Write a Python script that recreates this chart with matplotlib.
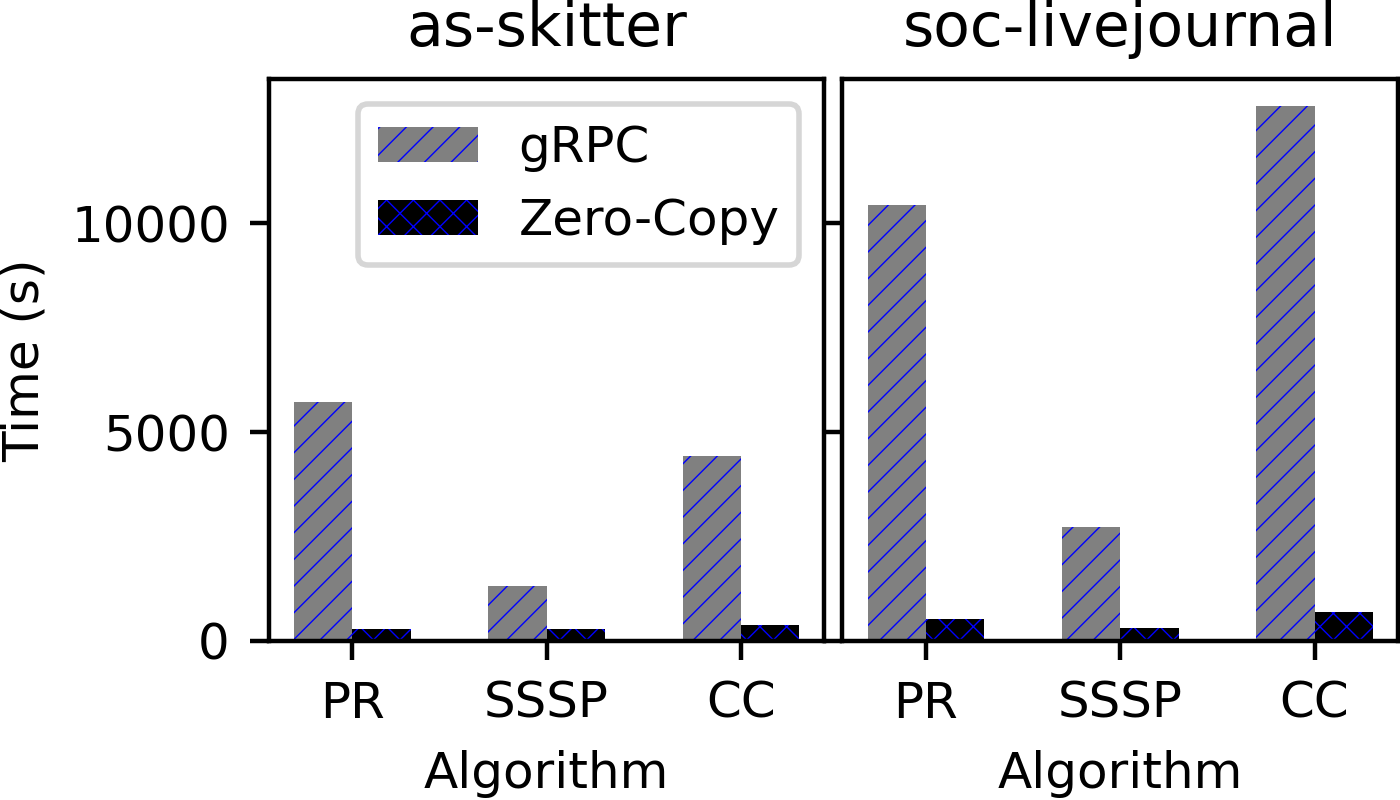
import matplotlib
matplotlib.use("Agg")
import matplotlib.pyplot as plt
import numpy as np

ALGORITHMS = ["PR", "SSSP", "CC"]
DATASETS = ["as-skitter", "soc-livejournal"]
GRPC_TIME = {
    "as-skitter": [5730, 1310, 4430],
    "soc-livejournal": [10430, 2725, 12810],
}
ZERO_COPY_TIME = {
    "as-skitter": [280, 280, 375],
    "soc-livejournal": [515, 300, 685],
}

plt.rcParams["font.size"] = 9
plt.rcParams["hatch.linewidth"] = 0.25

fig, axes = plt.subplots(1, 2, figsize=(3.5, 2.0), dpi=400, sharey=True)
fig.subplots_adjust(left=0.192, right=0.9986, bottom=0.199, top=0.901, wspace=0.0325)

width = 0.3
x = np.arange(len(ALGORITHMS))
for ax, name in zip(axes, DATASETS):
    ax.bar(x - width / 2, GRPC_TIME[name], width, color="gray", edgecolor="blue",
           linewidth=0, hatch="/////", label="gRPC")
    ax.bar(x + width / 2, ZERO_COPY_TIME[name], width, color="black", edgecolor="blue",
           linewidth=0, hatch="xxxxx", label="Zero-Copy")
    ax.set_xticks(x)
    ax.set_xticklabels(ALGORITHMS)
    ax.set_xlabel("Algorithm")
    ax.set_title(name)

axes[0].set_ylabel("Time (s)")
axes[1].tick_params(axis="y", labelleft=False)
axes[0].legend(loc="upper right")

fig.savefig("out.png", dpi=400)
